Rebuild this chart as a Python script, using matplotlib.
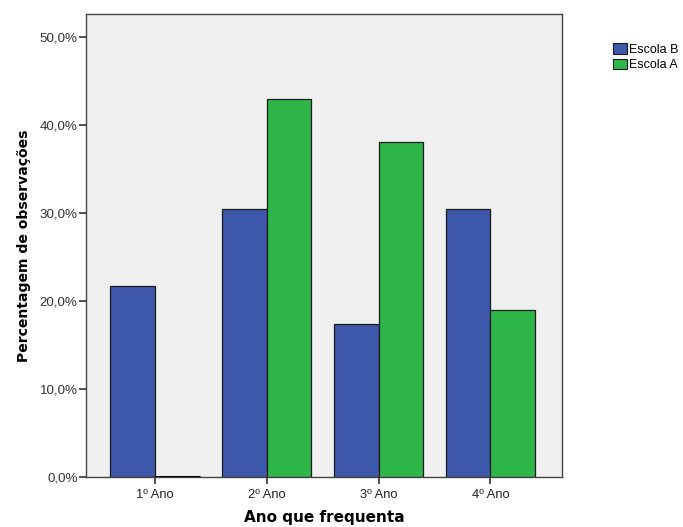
import matplotlib
matplotlib.use("Agg")
import matplotlib.pyplot as plt
import numpy as np
from matplotlib.patches import Patch

plt.rcParams['font.family'] = ['Liberation Sans', 'DejaVu Sans']

categories = ["1º Ano", "2º Ano", "3º Ano", "4º Ano"]
escola_b = [21.7, 30.4, 17.4, 30.4]
escola_a = [0.0, 42.9, 38.1, 19.0]
series_names = ["Escola B", "Escola A"]
y_ticks = [0, 10, 20, 30, 40, 50]
y_tick_labels = ["0,0%", "10,0%", "20,0%", "30,0%", "40,0%", "50,0%"]

blue = "#3e58ab"
green = "#2eb64a"

fig = plt.figure(figsize=(6.83, 5.27), dpi=100)
ax = fig.add_axes([0.1259, 0.0949, 0.8228 - 0.1259, 0.9734 - 0.0949])
ax.set_facecolor("#efefef")

x = np.arange(len(categories))
w = 0.40
ax.bar(x - w / 2, escola_b, width=w, color=blue, edgecolor="#1a1a1a", linewidth=0.9, zorder=2)
ax.bar(x + w / 2, escola_a, width=w, color=green, edgecolor="#1a1a1a", linewidth=0.9, zorder=2)
# zero-height bar shows as a line
for xi, v in zip(x, escola_a):
    if v == 0:
        ax.plot([xi, xi + w], [0, 0], color="black", lw=2.2, zorder=3, solid_capstyle="butt")

ax.set_xlim(-0.615, 3.64)
ax.set_ylim(0, 52.6)
ax.set_xticks(x)
ax.set_xticklabels(categories, fontsize=9.3, color="#222222")
ax.set_yticks(y_ticks)
ax.set_yticklabels(y_tick_labels, fontsize=9.6, color="#333333")
ax.tick_params(axis="both", direction="out", length=5, width=1.2, color="#333333")
ax.tick_params(axis="x", pad=4)
ax.tick_params(axis="y", pad=1)
for s in ax.spines.values():
    s.set_color("#444444")
    s.set_linewidth(1.0)

ax.set_xlabel("Ano que frequenta", fontsize=11, fontweight="bold", family="DejaVu Sans", labelpad=6)
ax.set_ylabel("Percentagem de observações", fontsize=10.1, fontweight="bold", family="DejaVu Sans", labelpad=6.5)

handles = [Patch(facecolor=blue, edgecolor="#1a1a1a", linewidth=0.8),
           Patch(facecolor=green, edgecolor="#1a1a1a", linewidth=0.8)]
fig.legend(handles, series_names, loc="upper left", bbox_to_anchor=(0.889, 0.93),
           frameon=False, fontsize=9, handlelength=1.05, handleheight=0.9,
           handletextpad=0.2, labelspacing=0.25, borderpad=0)

fig.savefig("out.png", dpi=100)
